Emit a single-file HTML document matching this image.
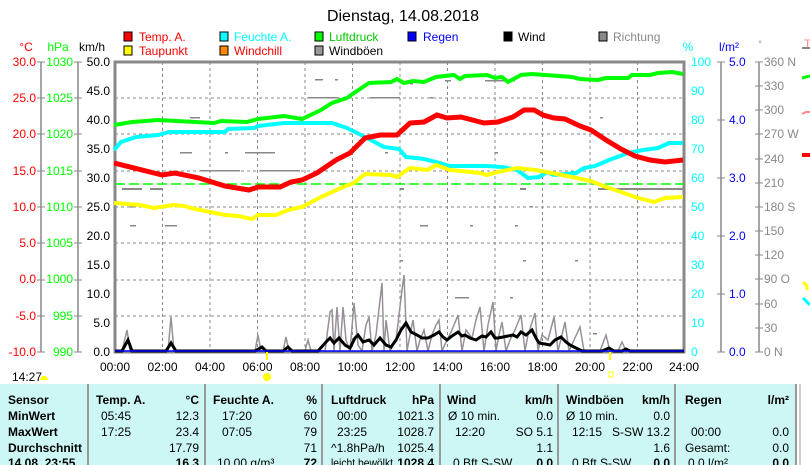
<!DOCTYPE html>
<html><head><meta charset="utf-8"><style>
html,body{margin:0;padding:0;background:#fff;width:810px;height:465px;overflow:hidden}
svg{display:block;font-family:"Liberation Sans",sans-serif}
</style></head><body>
<svg width="810" height="465" viewBox="0 0 810 465" xmlns="http://www.w3.org/2000/svg">
<text x="403" y="21" font-size="16" text-anchor="middle">Dienstag, 14.08.2018</text>
<!-- legend -->
<g font-size="12">
<rect x="124" y="32" width="8" height="9" fill="#f00" stroke="#000"/><text x="139" y="41" fill="#f00">Temp. A.</text>
<rect x="124" y="46" width="8" height="9" fill="#ff0" stroke="#000"/><text x="139" y="55" fill="#f00">Taupunkt</text>
<rect x="220" y="32" width="8" height="9" fill="#0ff" stroke="#000"/><text x="234" y="41" fill="#0ff">Feuchte A.</text>
<rect x="220" y="46" width="8" height="9" fill="#f80" stroke="#000"/><text x="234" y="55" fill="#f00">Windchill</text>
<rect x="315" y="32" width="8" height="9" fill="#0f0" stroke="#000"/><text x="329" y="41" fill="#0c0">Luftdruck</text>
<rect x="315" y="46" width="8" height="9" fill="#999" stroke="#000"/><text x="329" y="55">Windböen</text>
<rect x="408" y="32" width="8" height="9" fill="#00f" stroke="#000"/><text x="423" y="41" fill="#00f">Regen</text>
<rect x="504" y="32" width="8" height="9" fill="#000" stroke="#000"/><text x="518" y="41">Wind</text>
<rect x="599" y="32" width="8" height="9" fill="#888" stroke="#000"/><text x="613" y="41" fill="#888">Richtung</text>
</g>
<g font-size="12">
<text x="26" y="51" fill="#f00" text-anchor="middle">°C</text>
<text x="58" y="51" fill="#0f0" text-anchor="middle">hPa</text>
<text x="92" y="51" text-anchor="middle">km/h</text>
<text x="688" y="51" fill="#0ff" text-anchor="middle">%</text>
<text x="729" y="51" fill="#00f" text-anchor="middle">l/m²</text>
<text x="760" y="47" fill="#888" text-anchor="middle" font-size="9">°</text>
<text x="804" y="48" fill="#f88" font-size="12">T</text>
</g>
<!-- axes lines -->
<g stroke="#888" stroke-width="1.5">
<line x1="41" y1="62" x2="41" y2="352"/><line x1="78" y1="62" x2="78" y2="352"/>
<line x1="721" y1="62" x2="721" y2="352"/><line x1="759" y1="62" x2="759" y2="352"/>
</g>
<g font-size="12" text-anchor="end">
<g fill="#f00"><text x="36" y="66">30.0</text><text x="36" y="102">25.0</text><text x="36" y="138">20.0</text><text x="36" y="175">15.0</text><text x="36" y="211">10.0</text><text x="36" y="247">5.0</text><text x="36" y="283">0.0</text><text x="36" y="320">-5.0</text><text x="36" y="356">-10.0</text></g>
<g fill="#0f0"><text x="73" y="66">1030</text><text x="73" y="102">1025</text><text x="73" y="138">1020</text><text x="73" y="175">1015</text><text x="73" y="211">1010</text><text x="73" y="247">1005</text><text x="73" y="283">1000</text><text x="73" y="320">995</text><text x="73" y="356">990</text></g>
<g fill="#000"><text x="110" y="66">50.0</text><text x="110" y="95">45.0</text><text x="110" y="124">40.0</text><text x="110" y="153">35.0</text><text x="110" y="182">30.0</text><text x="110" y="211">25.0</text><text x="110" y="240">20.0</text><text x="110" y="269">15.0</text><text x="110" y="298">10.0</text><text x="110" y="327">5.0</text><text x="110" y="356">0.0</text></g>
</g>
<g stroke="#888"><path d="M37 62h8M37 98h8M37 134h8M37 171h8M37 207h8M37 243h8M37 280h8M37 316h8M37 352h8M74 62h8M74 98h8M74 134h8M74 171h8M74 207h8M74 243h8M74 280h8M74 316h8M74 352h8M717 62h8M717 120h8M717 178h8M717 236h8M717 294h8M717 352h8M755 62h8M755 86h8M755 110h8M755 134h8M755 159h8M755 183h8M755 207h8M755 231h8M755 255h8M755 279h8M755 304h8M755 328h8M755 352h8"/></g>
<g font-size="12">
<g fill="#0ff"><text x="691" y="66">100</text><text x="691" y="95">90</text><text x="691" y="124">80</text><text x="691" y="153">70</text><text x="691" y="182">60</text><text x="691" y="211">50</text><text x="691" y="240">40</text><text x="691" y="269">30</text><text x="691" y="298">20</text><text x="691" y="327">10</text><text x="691" y="356">0</text></g>
<g fill="#00f"><text x="729" y="66">5.0</text><text x="729" y="124">4.0</text><text x="729" y="182">3.0</text><text x="729" y="240">2.0</text><text x="729" y="298">1.0</text><text x="729" y="356">0.0</text></g>
<g fill="#888"><text x="764" y="66">360 N</text><text x="764" y="90">330</text><text x="764" y="114">300</text><text x="764" y="138">270 W</text><text x="764" y="163">240</text><text x="764" y="187">210</text><text x="764" y="211">180 S</text><text x="764" y="235">150</text><text x="764" y="259">120</text><text x="764" y="283">90  O</text><text x="764" y="308">60</text><text x="764" y="332">30</text><text x="764" y="356">0   N</text></g>
</g>
<!-- grid -->
<g stroke="#888" stroke-dasharray="3,3" stroke-width="1">
<path d="M162.5 62v290M210 62v290M257.5 62v290M305 62v290M352.5 62v290M400 62v290M447.5 62v290M495 62v290M542.5 62v290M590 62v290M637.5 62v290"/>
<path d="M115 98h569M115 134h569M115 171h569M115 207h569M115 243h569M115 280h569M115 316h569"/>
</g>
<rect x="115" y="62" width="569" height="290" fill="none" stroke="#888" stroke-width="3"/>
<!-- richtung dots -->
<g fill="#888">
<rect x="315" y="79" width="8" height="1.5"/><rect x="335" y="79" width="3" height="1.5"/><rect x="370" y="83" width="6" height="1.5"/><rect x="410" y="83" width="3" height="1.5"/><rect x="445" y="80" width="6" height="1.5"/><rect x="485" y="80" width="30" height="1.5"/>
<rect x="308" y="97" width="30" height="1.5"/><rect x="370" y="97" width="30" height="1.5"/><rect x="430" y="97" width="3" height="1.5"/>
<rect x="190" y="117" width="10" height="1.5"/><rect x="560" y="117" width="3" height="1.5"/><rect x="600" y="117" width="3" height="1.5"/>
<rect x="180" y="152" width="12" height="1.5"/><rect x="225" y="152" width="3" height="1.5"/><rect x="245" y="152" width="30" height="1.5"/><rect x="330" y="152" width="3" height="1.5"/><rect x="385" y="152" width="3" height="1.5"/><rect x="495" y="152" width="3" height="1.5"/><rect x="540" y="152" width="3" height="1.5"/>
<rect x="200" y="170" width="40" height="1.5"/><rect x="260" y="170" width="40" height="1.5"/>
<rect x="122" y="188" width="20" height="2"/><rect x="150" y="188" width="12" height="2"/><rect x="598" y="188" width="85" height="2"/><rect x="400" y="188" width="4" height="2"/><rect x="520" y="188" width="6" height="2"/>
<rect x="130" y="206" width="3" height="1.5"/><rect x="145" y="206" width="3" height="1.5"/><rect x="530" y="206" width="3" height="1.5"/>
<rect x="130" y="225" width="6" height="1.5"/><rect x="165" y="225" width="12" height="1.5"/><rect x="420" y="225" width="8" height="1.5"/><rect x="470" y="225" width="3" height="1.5"/><rect x="515" y="225" width="3" height="1.5"/>
<rect x="400" y="260" width="3" height="1.5"/><rect x="523" y="260" width="3" height="1.5"/><rect x="575" y="260" width="3" height="1.5"/><rect x="455" y="297" width="14" height="1.5"/><rect x="510" y="297" width="3" height="1.5"/><rect x="593" y="333" width="4" height="1.5"/>
</g>
<line x1="115" y1="184" x2="684" y2="184" stroke="#0f0" stroke-width="1.5" stroke-dasharray="10,4"/>
<!-- gusts -->
<polyline fill="none" stroke="#988f98" stroke-width="1.5" points="115,351 122,351 127,330 130,351 135,351 168,351 171,317 174,351 178,351 255,351 258,335 261,351 283,351 286,337 289,351 305,351 308,340 311,351 325,351 330,312 332,310 334,351 337,307 340,351 343,307 346,340 350,351 354,303 358,345 362,351 366,325 369,317 372,351 376,335 382,283 384,351 386,320 390,351 396,340 402,290 404,275 407,351 410,335 413,320 417,351 420,340 424,330 428,351 432,335 436,325 439,320 442,351 447,340 452,330 458,315 462,351 466,330 472,338 476,320 480,307 484,351 488,325 493,302 496,351 499,335 502,322 506,351 510,340 515,330 521,315 525,351 528,335 535,313 538,351 542,335 548,340 554,317 558,351 562,335 565,322 569,351 574,340 580,327 584,351 590,351 600,351 606,335 610,351 618,351 622,342 626,351 684,351"/>
<!-- wind -->
<polyline fill="none" stroke="#000" stroke-width="3" points="115,351 122,351 128,340 132,351 166,351 171,343 176,351 255,351 262,347 266,351 283,351 288,347 292,351 318,351 326,342 330,338 334,343 339,338 345,345 350,348 355,338 358,335 363,342 369,340 374,345 380,338 386,345 391,347 396,340 401,330 406,323 411,332 417,335 422,338 428,338 434,335 439,332 443,337 447,340 452,336 458,332 462,336 465,335 470,338 476,340 482,336 486,337 491,332 495,338 498,338 503,337 508,336 513,335 517,337 521,332 526,335 532,330 536,338 539,343 545,344 550,345 555,340 561,337 566,342 570,345 576,348 582,351 602,351 609,348 614,351 622,351 626,349 630,351 684,351"/>
<line x1="115" y1="351" x2="684" y2="351" stroke="#00f" stroke-width="1.5"/>
<!-- series -->
<polyline fill="none" stroke="#0f0" stroke-width="4" points="114,125 132,122 158,120 214,123 221,121 247,122 258,119 284,116 302,119 321,110 332,103 347,98 354,93 369,83 391,82 397,79 404,83 413,81 424,82 436,77 454,75 460,79 465,76 487,75 495,78 502,77 508,82 521,75 532,74 572,77 580,79 598,80 606,78 628,78 632,75 650,75 658,73 672,72 683,74"/>
<polyline fill="none" stroke="#0ff" stroke-width="4" points="114,150 121,142 136,137 158,135 169,132 225,132 228,129 254,128 258,126 284,123 332,123 347,128 365,137 384,147 399,149 406,157 424,159 436,162 450,166 487,166 502,167 517,170 528,178 539,177 547,172 554,175 576,173 584,168 595,166 609,160 628,153 643,150 658,148 669,143 683,143"/>
<polyline fill="none" stroke="#ff0" stroke-width="4" points="114,203 140,205 154,208 173,205 184,206 195,209 210,212 225,215 238,216 252,219 258,215 276,215 288,210 302,207 321,197 343,187 354,183 365,174 391,175 397,177 410,168 428,170 436,165 450,170 480,173 487,175 498,172 517,168 535,170 547,172 572,177 591,181 606,187 621,192 635,197 654,202 665,198 683,197"/>
<polyline fill="none" stroke="#f00" stroke-width="5" points="114,163 162,175 175,173 199,178 225,186 249,190 258,187 280,187 291,182 302,180 317,173 336,160 350,153 365,138 380,135 397,135 410,123 424,122 437,115 447,118 461,117 484,123 498,122 513,117 524,110 534,110 543,115 554,118 565,119 580,126 591,130 606,140 621,149 635,156 650,160 665,162 683,160"/>
<!-- right edge marks -->
<g stroke-width="3" fill="none">
<path d="M802 48h8" stroke="#888" stroke-width="2"/><path d="M802 78l8-2" stroke="#0f0"/><path d="M802 114l4-2h4" stroke="#f88" stroke-width="2"/><path d="M802 155h8" stroke="#f00" stroke-width="4"/><path d="M803 282l4 4v4" stroke="#ff0"/><path d="M803 298l4 4 3 3" stroke="#0ff"/>
</g>
<!-- x labels -->
<g font-size="12" text-anchor="middle">
<text x="115" y="371">00:00</text><text x="162.5" y="371">02:00</text><text x="210" y="371">04:00</text><text x="257.5" y="371">06:00</text><text x="305" y="371">08:00</text><text x="352.5" y="371">10:00</text><text x="400" y="371">12:00</text><text x="447.5" y="371">14:00</text><text x="495" y="371">16:00</text><text x="542.5" y="371">18:00</text><text x="590" y="371">20:00</text><text x="637.5" y="371">22:00</text><text x="684" y="371">24:00</text>
</g>
<rect x="266" y="352" width="2" height="8" fill="#ff0"/><rect x="609" y="352" width="2" height="8" fill="#ff0"/>
<circle cx="267" cy="377" r="4" fill="#ff0"/><rect x="609" y="372" width="4" height="5" fill="none" stroke="#ff0"/>
<text x="12" y="381" font-size="12">14:27</text><path d="M40 380a4 4 0 0 1 8 0z" fill="#ff0"/>
<!-- table -->
<rect x="0" y="384" width="795" height="81" fill="#ccf7f5"/>
<g stroke="#999" stroke-width="2"><path d="M88 384v81M205 384v81M322 384v81M440 384v81M558 384v81M675 384v81M796 384v81"/></g>
<line x1="800" y1="384" x2="800" y2="465" stroke="#999"/>
<g font-size="12">
<g font-weight="bold"><text x="8" y="404">Sensor</text><text x="8" y="420">MinWert</text><text x="8" y="436">MaxWert</text><text x="8" y="452">Durchschnitt</text><text x="8" y="467">14.08. 23:55</text>
<text x="96" y="404">Temp. A.</text><text x="213" y="404">Feuchte A.</text><text x="331" y="404">Luftdruck</text><text x="447" y="404">Wind</text><text x="566" y="404">Windböen</text><text x="685" y="404">Regen</text></g>
<g text-anchor="end"><g font-weight="bold"><text x="199" y="404">°C</text><text x="317" y="404">%</text><text x="434" y="404">hPa</text><text x="553" y="404">km/h</text><text x="670" y="404">km/h</text><text x="789" y="404">l/m²</text>
<text x="199" y="467">16.3</text><text x="317" y="467">72</text><text x="434" y="467">1028.4</text><text x="553" y="467">0.0</text><text x="670" y="467">0.0</text><text x="789" y="467">0.0</text></g>
<text x="199" y="420">12.3</text><text x="199" y="436">23.4</text><text x="199" y="452">17.79</text>
<text x="317" y="420">60</text><text x="317" y="436">79</text><text x="317" y="452">71</text>
<text x="434" y="420">1021.3</text><text x="434" y="436">1028.7</text><text x="434" y="452">1025.4</text>
<text x="553" y="420">0.0</text><text x="553" y="436">SO 5.1</text><text x="553" y="452">1.1</text>
<text x="670" y="420">0.0</text><text x="670" y="436">S-SW 13.2</text><text x="670" y="452">1.6</text>
<text x="789" y="436">0.0</text><text x="789" y="452">0.0</text></g>
<text x="101" y="420">05:45</text><text x="101" y="436">17:25</text>
<text x="222" y="420">17:20</text><text x="222" y="436">07:05</text><text x="217" y="467">10.00 g/m³</text>
<text x="337" y="420">00:00</text><text x="337" y="436">23:25</text><text x="331" y="452">^1.8hPa/h</text><text x="331" y="467" textLength="62" lengthAdjust="spacingAndGlyphs">leicht bewölkt</text>
<text x="448" y="420">Ø 10 min.</text><text x="455" y="436">12:20</text><text x="453" y="467">0 Bft S-SW</text>
<text x="566" y="420">Ø 10 min.</text><text x="572" y="436">12:15</text><text x="572" y="467">0 Bft S-SW</text>
<text x="691" y="436">00:00</text><text x="685" y="452">Gesamt:</text><text x="688" y="467">0.0 l/m²</text>
</g>
</svg>
</body></html>
